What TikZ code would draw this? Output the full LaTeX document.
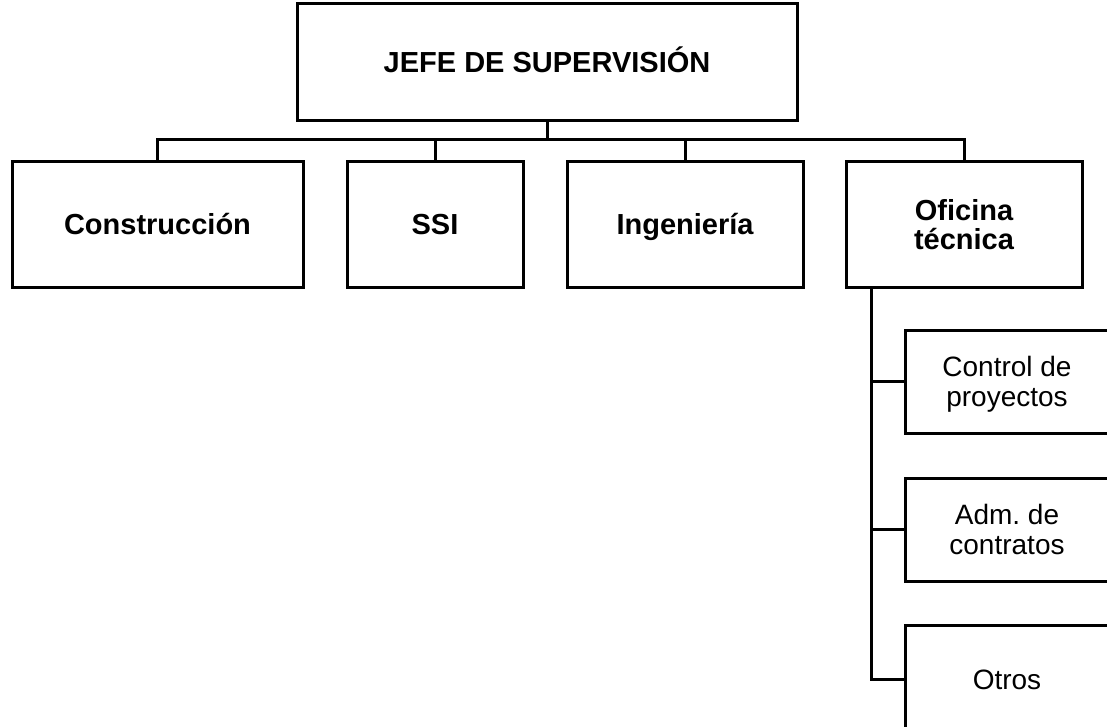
\documentclass[tikz,border=0pt]{standalone}
\usepackage{fontspec}
\setmainfont{Liberation Sans}
\begin{document}
\begin{tikzpicture}[x=1pt,y=-1pt,
  conn/.style={draw, line width=3pt},
  box/.style={draw, line width=3pt, inner sep=0pt, align=center, text depth=0pt,
    font=\fontsize{28}{30}\selectfont},
  bbox/.style={box, font=\fontsize{29}{29}\selectfont\bfseries},
  oneline/.style={text height=20.8pt}]
\useasboundingbox (0,0) rectangle (1107,727);
\clip (0,0) rectangle (1107,727);
% top
\node[bbox, oneline, minimum width=500, minimum height=117] (top) at (547,62.5) {JEFE DE SUPERVISIÓN};
% level 1
\node[bbox, oneline, minimum width=291, minimum height=125] (c1) at (157.5,224.5) {Construcción};
\node[bbox, oneline, minimum width=176, minimum height=125] (c2) at (435,224.5) {SSI};
\node[bbox, oneline, minimum width=236, minimum height=125] (c3) at (685,224.5) {Ingeniería};
\node[bbox, minimum width=236, minimum height=125] (c4) at (964,224.5) {Oficina\\técnica};
% level 2
\node[box, minimum width=204, minimum height=103] (s1) at (1007,381.5) {Control de\\proyectos};
\node[box, minimum width=204, minimum height=103] (s2) at (1007,529.5) {Adm.\ de\\contratos};
\node[box, oneline, minimum width=204, minimum height=108] (s3) at (1007,679) {Otros};
% connectors
\coordinate (bus) at (547,140);
\coordinate (vtop) at (871,287);
\draw[conn] (top.south) -- (bus);
\draw[conn] (c1.north) -- (c1.north |- bus) -- (c4.north |- bus) -- (c4.north);
\draw[conn] (c2.north) -- (c2.north |- bus);
\draw[conn] (c3.north) -- (c3.north |- bus);
\draw[conn] (vtop) |- (s3.west);
\draw[conn] (s1.west -| vtop) -- (s1.west);
\draw[conn] (s2.west -| vtop) -- (s2.west);
\end{tikzpicture}
\end{document}
